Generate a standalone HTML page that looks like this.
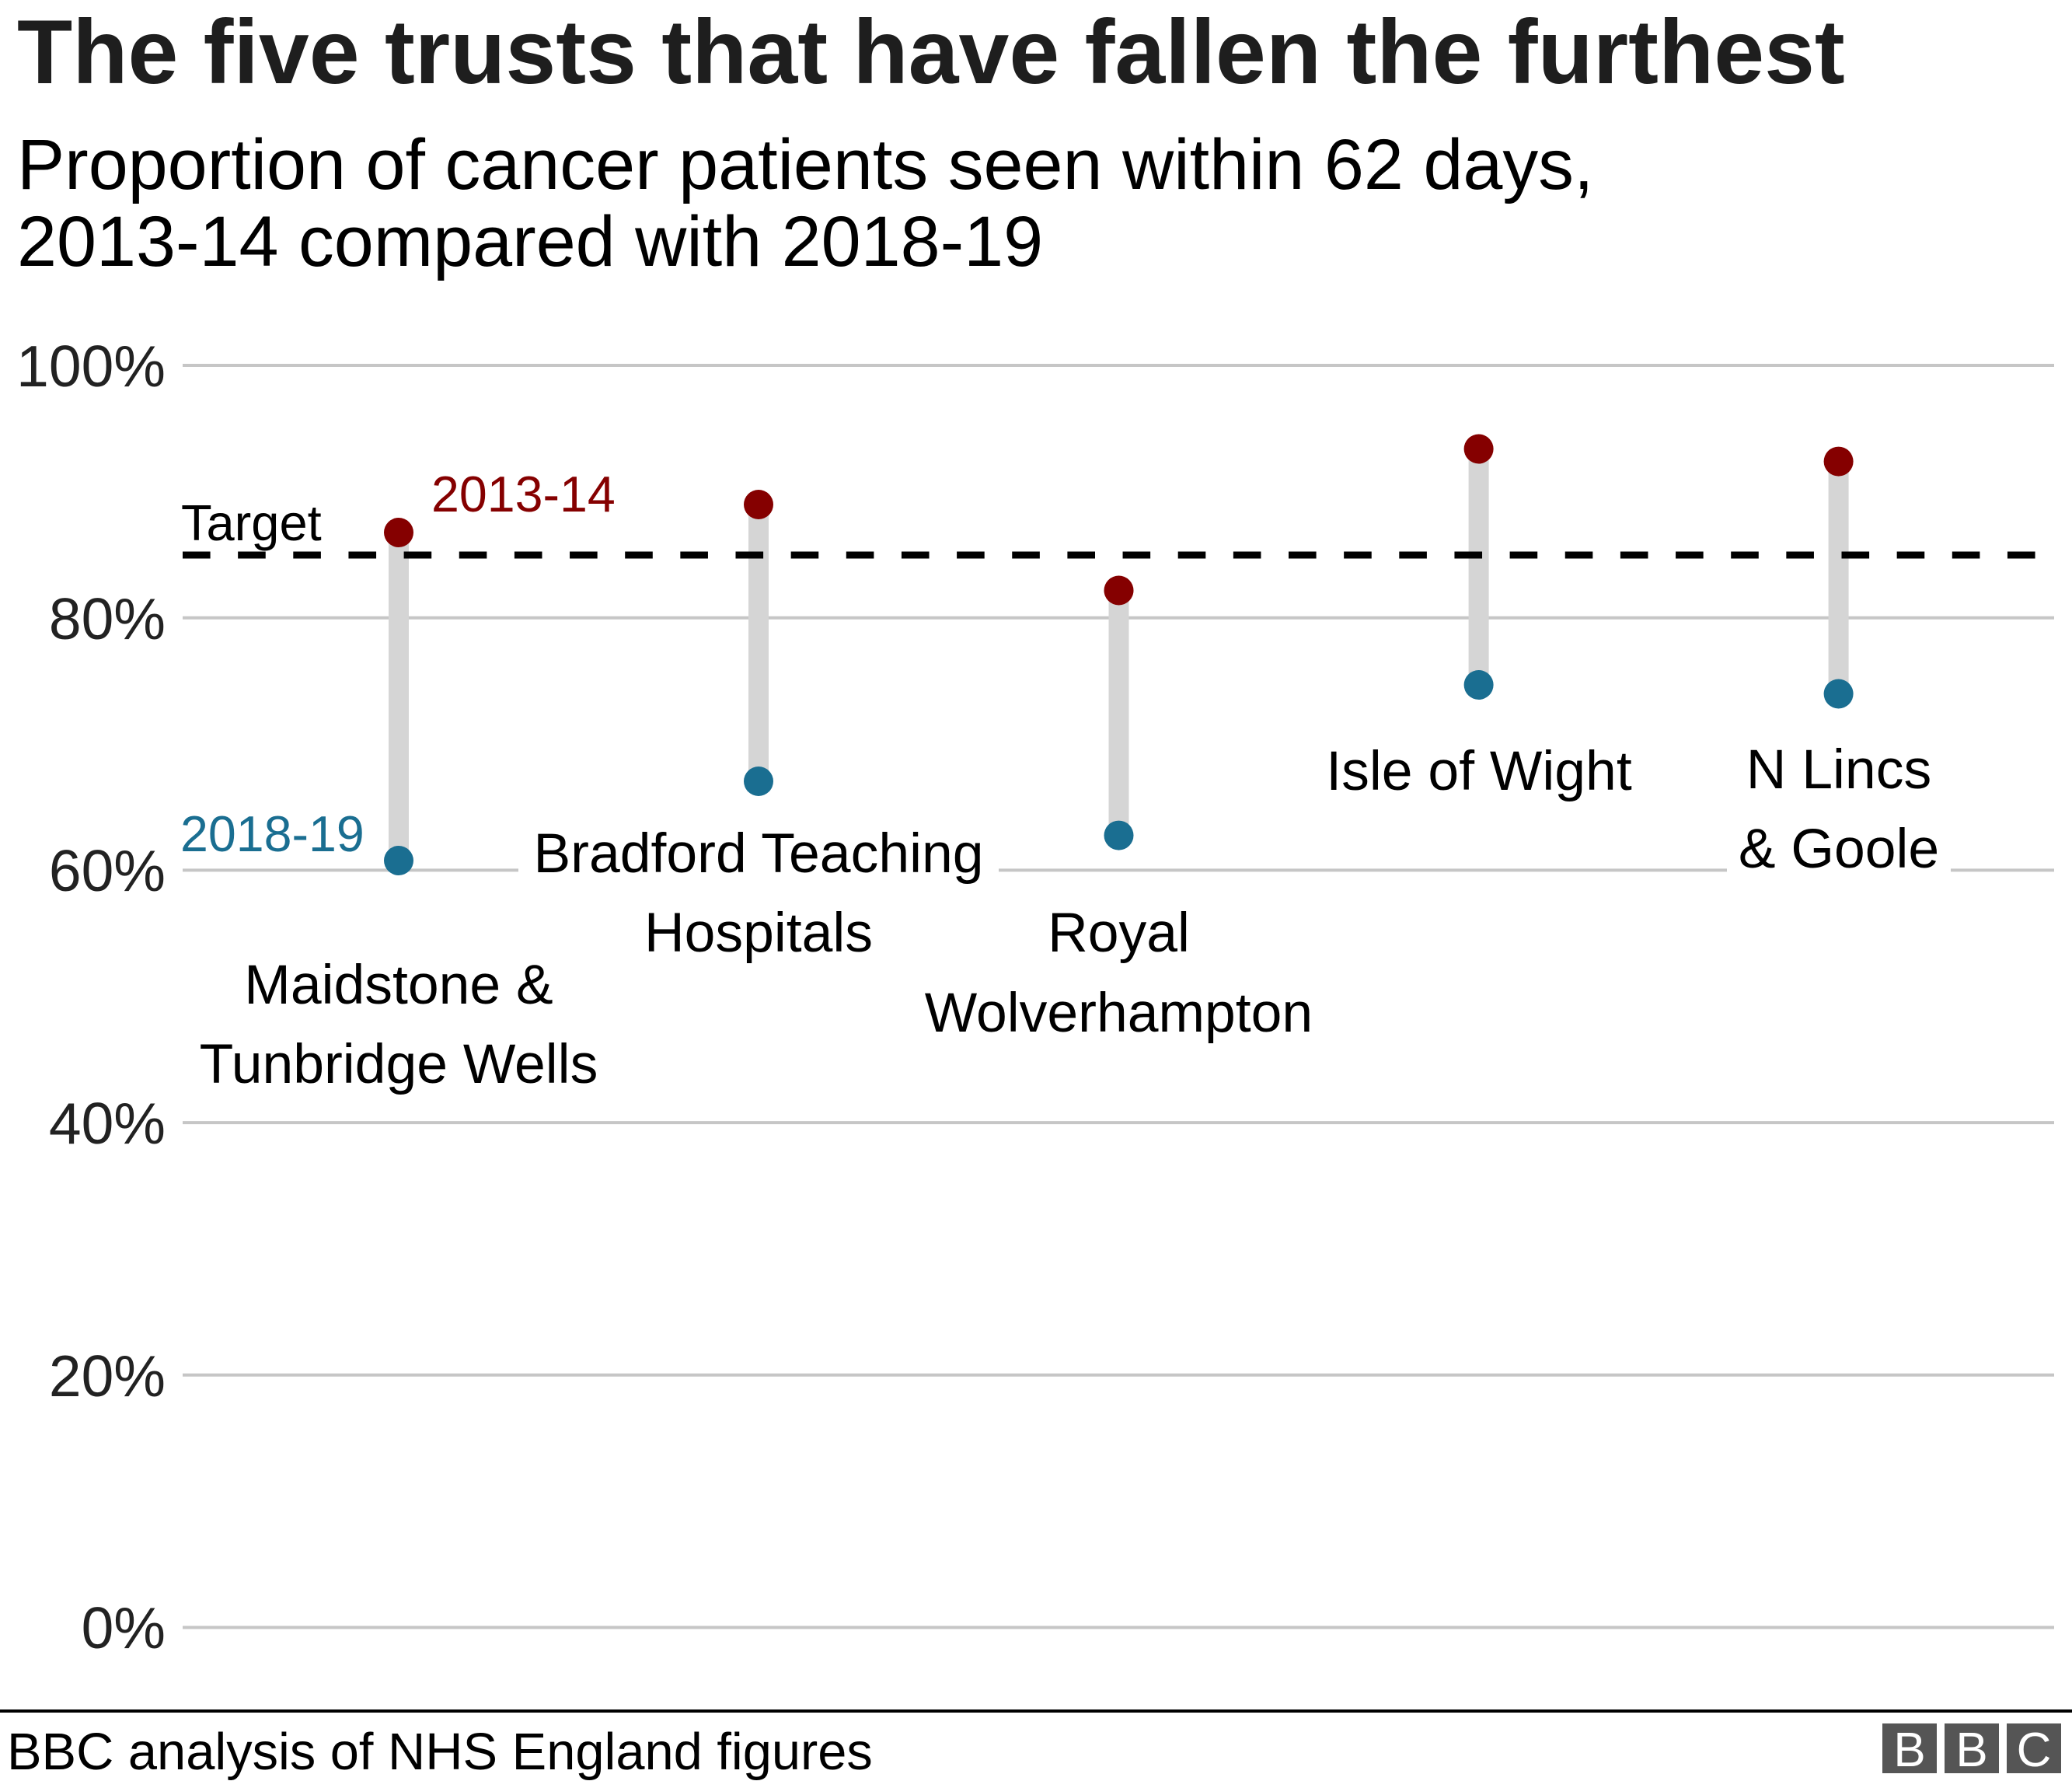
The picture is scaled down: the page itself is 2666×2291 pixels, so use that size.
<!DOCTYPE html>
<html>
<head>
<meta charset="utf-8">
<style>
  html, body { margin: 0; padding: 0; background: #fff; }
  svg { display: block; }
  text { font-family: "Liberation Sans", Arial, Helvetica, sans-serif; }
</style>
</head>
<body>
<svg width="2666" height="2291" viewBox="0 0 2666 2291" xmlns="http://www.w3.org/2000/svg">
  <rect width="2666" height="2291" fill="#ffffff"/>

  <!-- Title & subtitle -->
  <text x="22" y="107" font-size="116.6" font-weight="bold" fill="#1e1e1e">The five trusts that have fallen the furthest</text>
  <text x="22" y="243" font-size="91.7" fill="#000">Proportion of cancer patients seen within 62 days,</text>
  <text x="22" y="342" font-size="91.7" fill="#000">2013-14 compared with 2018-19</text>

  <!-- Gridlines -->
  <g stroke="#c6c6c6" stroke-width="4">
    <line x1="235" y1="470" x2="2643" y2="470"/>
    <line x1="235" y1="794.7" x2="2643" y2="794.7"/>
    <line x1="235" y1="1119.4" x2="667" y2="1119.4"/>
    <line x1="1285" y1="1119.4" x2="2222" y2="1119.4"/>
    <line x1="2510" y1="1119.4" x2="2643" y2="1119.4"/>
    <line x1="235" y1="1444.1" x2="2643" y2="1444.1"/>
    <line x1="235" y1="1768.8" x2="2643" y2="1768.8"/>
    <line x1="235" y1="2093.5" x2="2643" y2="2093.5"/>
  </g>

  <!-- Y axis labels -->
  <g font-size="75" fill="#222" text-anchor="end">
    <text x="213" y="497">100%</text>
    <text x="213" y="822">80%</text>
    <text x="213" y="1146">60%</text>
    <text x="213" y="1471">40%</text>
    <text x="213" y="1796">20%</text>
    <text x="213" y="2120">0%</text>
  </g>

  <!-- Bars -->
  <g stroke="#d5d5d5" stroke-width="26">
    <line x1="513" y1="685" x2="513" y2="1107"/>
    <line x1="976" y1="649" x2="976" y2="1005"/>
    <line x1="1439.5" y1="759.5" x2="1439.5" y2="1074.6"/>
    <line x1="1902.6" y1="577.5" x2="1902.6" y2="881"/>
    <line x1="2365.6" y1="593.6" x2="2365.6" y2="892.5"/>
  </g>

  <!-- Target dashed line -->
  <line x1="235" y1="714" x2="2643" y2="714" stroke="#000" stroke-width="9" stroke-dasharray="35.6 35.55"/>
  <text x="233" y="695" font-size="65" fill="#000">Target</text>

  <!-- Dots 2013-14 -->
  <g fill="#850000">
    <circle cx="513" cy="685" r="19"/>
    <circle cx="976" cy="649" r="19"/>
    <circle cx="1439.5" cy="759.5" r="19"/>
    <circle cx="1902.6" cy="577.5" r="19"/>
    <circle cx="2365.6" cy="593.6" r="19"/>
  </g>
  <!-- Dots 2018-19 -->
  <g fill="#1a6e91">
    <circle cx="513" cy="1107" r="19"/>
    <circle cx="976" cy="1005" r="19"/>
    <circle cx="1439.5" cy="1074.6" r="19"/>
    <circle cx="1902.6" cy="881" r="19"/>
    <circle cx="2365.6" cy="892.5" r="19"/>
  </g>

  <!-- Series labels -->
  <text x="555" y="658" font-size="64.5" fill="#850000">2013-14</text>
  <text x="232" y="1095" font-size="64.5" fill="#1a6e91">2018-19</text>

  <!-- Category labels -->
  <g font-size="71.5" fill="#000" text-anchor="middle">
    <text x="513" y="1291">Maidstone &amp;</text>
    <text x="513" y="1393">Tunbridge Wells</text>
    <text x="976" y="1122">Bradford Teaching</text>
    <text x="976" y="1224">Hospitals</text>
    <text x="1439.5" y="1224">Royal</text>
    <text x="1439.5" y="1327">Wolverhampton</text>
    <text x="1903" y="1016">Isle of Wight</text>
    <text x="2366" y="1014">N Lincs</text>
    <text x="2366" y="1116">&amp; Goole</text>
  </g>

  <!-- Footer -->
  <rect x="0" y="2199" width="2666" height="4" fill="#000"/>
  <text x="9" y="2276" font-size="66.8" fill="#000">BBC analysis of NHS England figures</text>

  <!-- BBC logo -->
  <g fill="#555555">
    <rect x="2422" y="2217" width="70" height="64"/>
    <rect x="2502" y="2217" width="70" height="64"/>
    <rect x="2582" y="2217" width="70" height="64"/>
  </g>
  <g fill="#ffffff" font-size="62" text-anchor="middle">
    <text x="2457" y="2272">B</text>
    <text x="2537" y="2272">B</text>
    <text x="2617" y="2272">C</text>
  </g>
</svg>
</body>
</html>
